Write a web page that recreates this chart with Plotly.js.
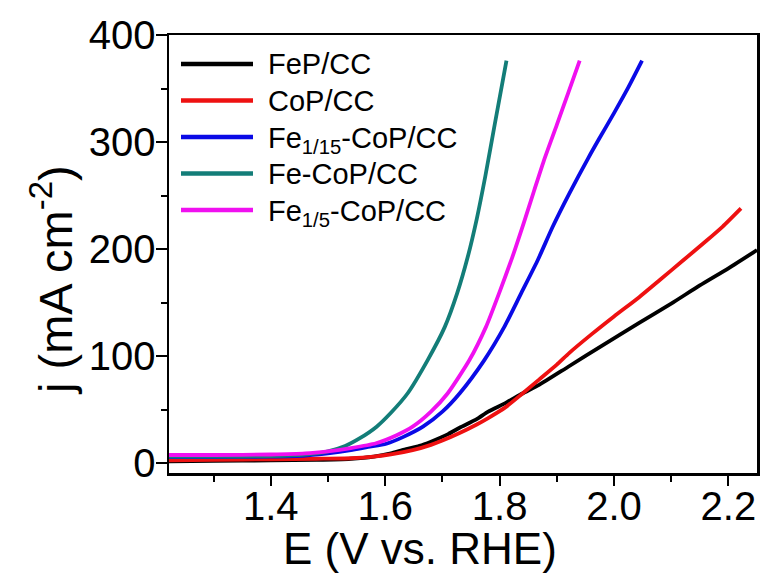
<!DOCTYPE html>
<html>
<head>
<meta charset="utf-8">
<script src="https://cdn.plot.ly/plotly-3.0.1.min.js"></script>
<style>html,body{margin:0;padding:0;background:#fff;}#chart{width:765px;height:578px;}</style>
</head>
<body>
<div id="chart"></div>
<script>
// Series names
const seriesNames = ['FeP/CC', 'CoP/CC', 'Fe<sub>1/15</sub>-CoP/CC', 'Fe-CoP/CC', 'Fe<sub>1/5</sub>-CoP/CC'];
const seriesColors = ['#000000', '#ee1111', '#0a0ae6', '#137d78', '#f010f0'];

// FeP/CC
const fepE = [1.222, 1.30, 1.40, 1.48, 1.54, 1.58, 1.61, 1.63, 1.66, 1.68, 1.71, 1.73, 1.76, 1.78, 1.81, 1.84, 1.869, 1.92, 1.98, 2.044, 2.10, 2.15, 2.20, 2.25];
const fepJ = [1.5, 2, 2.5, 3, 4, 6, 9, 12, 16, 20, 27, 33, 41, 48, 56, 65, 73, 90, 110, 131, 149, 166, 182, 199];

// CoP/CC
const copE = [1.222, 1.30, 1.40, 1.48, 1.54, 1.58, 1.61, 1.648, 1.68, 1.70, 1.73, 1.76, 1.78, 1.81, 1.838, 1.869, 1.90, 1.922, 1.96, 2.00, 2.044, 2.08, 2.12, 2.16, 2.19, 2.222];
const copJ = [2.5, 3, 3.5, 4, 4.5, 6, 8, 12, 17, 21, 28, 36, 42, 52, 64, 78, 92, 103, 120, 137, 155, 171, 189, 207, 221, 238];

// Fe1/15-CoP/CC
const fe115E = [1.222, 1.30, 1.40, 1.46, 1.50, 1.54, 1.57, 1.602, 1.63, 1.666, 1.70, 1.730, 1.773, 1.808, 1.838, 1.867, 1.893, 1.922, 1.955, 1.974, 2.00, 2.025, 2.049];
const fe115J = [5.5, 5.5, 6, 7, 9, 12, 15, 18, 24, 34, 48, 65, 96, 127, 159, 190, 221, 252, 285, 303, 327, 351, 376];

// Fe-CoP/CC
const feCoPE = [1.222, 1.30, 1.40, 1.46, 1.50, 1.53, 1.555, 1.585, 1.61, 1.639, 1.674, 1.704, 1.726, 1.744, 1.760, 1.775, 1.792, 1.812];
const feCoPJ = [6, 6, 6.5, 8, 11, 16, 23, 34, 47, 65, 96, 127, 159, 192, 228, 268, 318, 376];

// Fe1/5-CoP/CC
const fe15E = [1.222, 1.30, 1.40, 1.46, 1.50, 1.54, 1.584, 1.62, 1.648, 1.68, 1.709, 1.747, 1.776, 1.800, 1.822, 1.842, 1.860, 1.877, 1.90, 1.92, 1.940];
const fe15J = [7.5, 7.5, 8, 9, 11, 14, 18.5, 26, 34, 48, 65, 96, 127, 160, 192, 224, 254, 282, 316, 346, 376];

// Axis ticks
const xTickVals = [1.4, 1.6, 1.8, 2.0, 2.2];
const xTickText = ['1.4', '1.6', '1.8', '2.0', '2.2'];
const yTickVals = [0, 100, 200, 300, 400];
const yTickText = ['0', '100', '200', '300', '400'];

const xs = [fepE, copE, fe115E, feCoPE, fe15E];
const ys = [fepJ, copJ, fe115J, feCoPJ, fe15J];

const FONT = 'Liberation Sans, Arial, Helvetica, sans-serif';

const traces = seriesNames.map((name, i) => ({
  x: xs[i], y: ys[i], name: name, type: 'scatter', mode: 'lines',
  showlegend: false,
  line: {color: seriesColors[i], width: 3.8, shape: 'spline', smoothing: 0.6}
}));

// Legend drawn in the plot's paper coordinates (line samples + labels)
const L = 169, T = 35, W = 588, H = 438;
const px = v => (v - L) / W;
const py = v => (T + H - v) / H;
const rowY = [64, 100.5, 137, 173.5, 210];
const legendShapes = seriesNames.map((n, i) => ({
  type: 'line', xref: 'paper', yref: 'paper',
  x0: px(181), x1: px(253), y0: py(rowY[i]), y1: py(rowY[i]),
  line: {color: seriesColors[i], width: 4.5}
}));
const legendLabels = seriesNames.map((n, i) => ({
  text: n, xref: 'paper', yref: 'paper', x: px(266), y: py(rowY[i]),
  xanchor: 'left', yanchor: 'middle', showarrow: false,
  yshift: (n.indexOf('<sub>') >= 0) ? -3 : 0,
  font: {family: FONT, size: 29, color: '#000'}
}));

const layout = {
  width: 765, height: 578,
  margin: {l: L, r: 8, t: T, b: 105},
  paper_bgcolor: '#ffffff', plot_bgcolor: '#ffffff',
  font: {family: FONT, color: '#000'},
  showlegend: false,
  xaxis: {
    range: [1.222, 2.25], showgrid: false, zeroline: false,
    showline: true, linecolor: '#000', linewidth: 2.5, mirror: true,
    ticks: 'outside', ticklen: 10, tickwidth: 2, tickcolor: '#000',
    tickvals: xTickVals, ticktext: xTickText, ticklabelstandoff: -14,
    tickfont: {family: FONT, size: 40, color: '#000'},
    minor: {dtick: 0.1, tick0: 1.2, ticks: 'outside', ticklen: 6, tickwidth: 2, tickcolor: '#000', showgrid: false}
  },
  yaxis: {
    range: [-9.3, 400], showgrid: false, zeroline: false,
    showline: true, linecolor: '#000', linewidth: 2.5, mirror: true,
    ticks: 'outside', ticklen: 11, tickwidth: 2, tickcolor: '#000',
    tickvals: yTickVals, ticktext: yTickText, ticklabelstandoff: -8,
    tickfont: {family: FONT, size: 40, color: '#000'},
    minor: {dtick: 50, tick0: 0, ticks: 'outside', ticklen: 6, tickwidth: 2, tickcolor: '#000', showgrid: false}
  },
  shapes: legendShapes,
  annotations: [
    {text: 'E (V vs. RHE)', xref: 'x', yref: 'paper', x: 1.66, y: 0, yshift: -75,
     xanchor: 'center', yanchor: 'middle', showarrow: false,
     font: {family: FONT, size: 44, color: '#000'}},
    {text: 'j (mA cm<sup>-2</sup>)', xref: 'paper', yref: 'paper', x: px(52), y: py(280),
     xanchor: 'center', yanchor: 'middle', textangle: -90, showarrow: false,
     font: {family: FONT, size: 47, color: '#000'}}
  ].concat(legendLabels)
};

Plotly.newPlot('chart', traces, layout, {displayModeBar: false, staticPlot: true});
</script>
</body>
</html>
